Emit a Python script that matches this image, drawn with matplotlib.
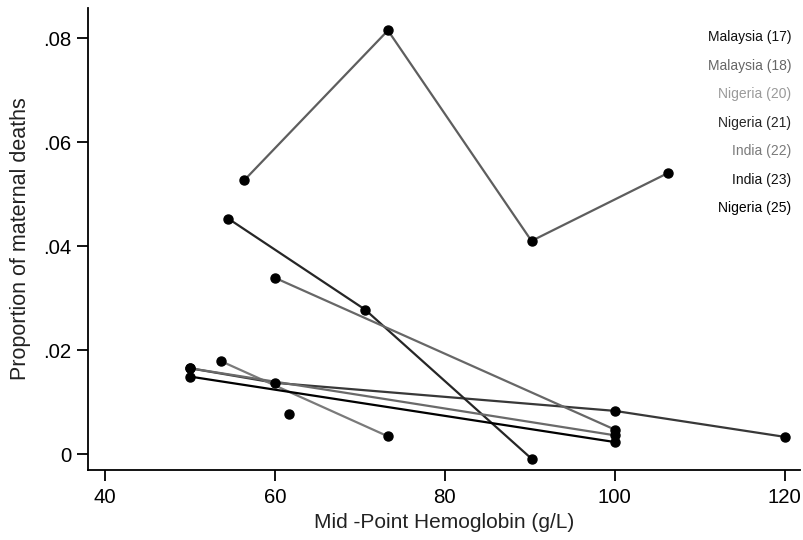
import matplotlib
matplotlib.use("Agg")
import matplotlib.pyplot as plt

plt.rcParams['font.family'] = ['Liberation Sans', 'DejaVu Sans']

# study labels (legend order)
studies = ['Malaysia (17)', 'Malaysia (18)', 'Nigeria (20)', 'Nigeria (21)',
           'India (22)', 'India (23)', 'Nigeria (25)']

# mid-point hemoglobin (g/L) and proportion of maternal deaths per study
hb_malaysia17 = [50, 60, 100, 120]
deaths_malaysia17 = [0.0165, 0.0137, 0.0083, 0.0033]

hb_malaysia18 = [56.4, 73.3, 90.2, 106.3]
deaths_malaysia18 = [0.0527, 0.0815, 0.0410, 0.0541]

hb_nigeria20 = [53.6, 73.3]
deaths_nigeria20 = [0.0179, 0.0034]

hb_nigeria21 = [54.5, 70.6, 90.2]
deaths_nigeria21 = [0.0453, 0.0278, -0.0009]

hb_india22 = [60, 100]
deaths_india22 = [0.0339, 0.0047]

hb_india23 = [50, 100]
deaths_india23 = [0.0165, 0.0036]

hb_nigeria25 = [50, 100]
deaths_nigeria25 = [0.0149, 0.0023]

# observation not joined to any line
hb_extra = [61.7]
deaths_extra = [0.0077]

hb_all = [hb_malaysia17, hb_malaysia18, hb_nigeria20, hb_nigeria21,
          hb_india22, hb_india23, hb_nigeria25]
deaths_all = [deaths_malaysia17, deaths_malaysia18, deaths_nigeria20, deaths_nigeria21,
              deaths_india22, deaths_india23, deaths_nigeria25]

line_colors = ['#383838', '#5e5e5e', '#7a7a7a', '#262626', '#676767', '#6a6a6a', '#000000']
label_colors = ['#111111', '#666666', '#9a9a9a', '#262626', '#7a7a7a', '#111111', '#000000']

yticks = [0, 0.02, 0.04, 0.06, 0.08]
ytick_labels = ['0', '.02', '.04', '.06', '.08']
xticks = [40, 60, 80, 100, 120]

fig = plt.figure(figsize=(8.04, 5.4), dpi=100)
ax = fig.add_axes([0.1095, 0.1296, 0.8855, 0.8554])

for hb, d, c in zip(hb_all, deaths_all, line_colors):
    ax.plot(hb, d, color=c, linewidth=1.6, solid_capstyle='butt', zorder=2)

for hb, d in zip(hb_all + [hb_extra], deaths_all + [deaths_extra]):
    ax.plot(hb, d, 'o', color='black', markersize=6.5, linestyle='none', zorder=3)

ax.set_xlim(38, 121.8)
ax.set_ylim(-0.00308, 0.0858)
ax.set_xticks(xticks)
ax.set_yticks(yticks)
ax.set_yticklabels(ytick_labels)

for s in ['top', 'right']:
    ax.spines[s].set_visible(False)
for s in ['left', 'bottom']:
    ax.spines[s].set_linewidth(1.3)
ax.tick_params(axis='both', direction='out', length=8, width=1.3,
               labelsize=14.7, colors='black', pad=5)
ax.tick_params(axis='y', pad=4)

ax.set_xlabel('Mid -Point Hemoglobin (g/L)', fontsize=15, color='#222222', labelpad=4)
ax.set_ylabel('Proportion of maternal deaths', fontsize=15.5, color='#222222', labelpad=9)

# text-only legend at top right
for i, (name, c) in enumerate(zip(studies, label_colors)):
    ax.text(0.9875, 0.937 - i * 0.0617, name, transform=ax.transAxes,
            ha='right', va='center', fontsize=10, color=c)

fig.savefig('out.png', dpi=100)
